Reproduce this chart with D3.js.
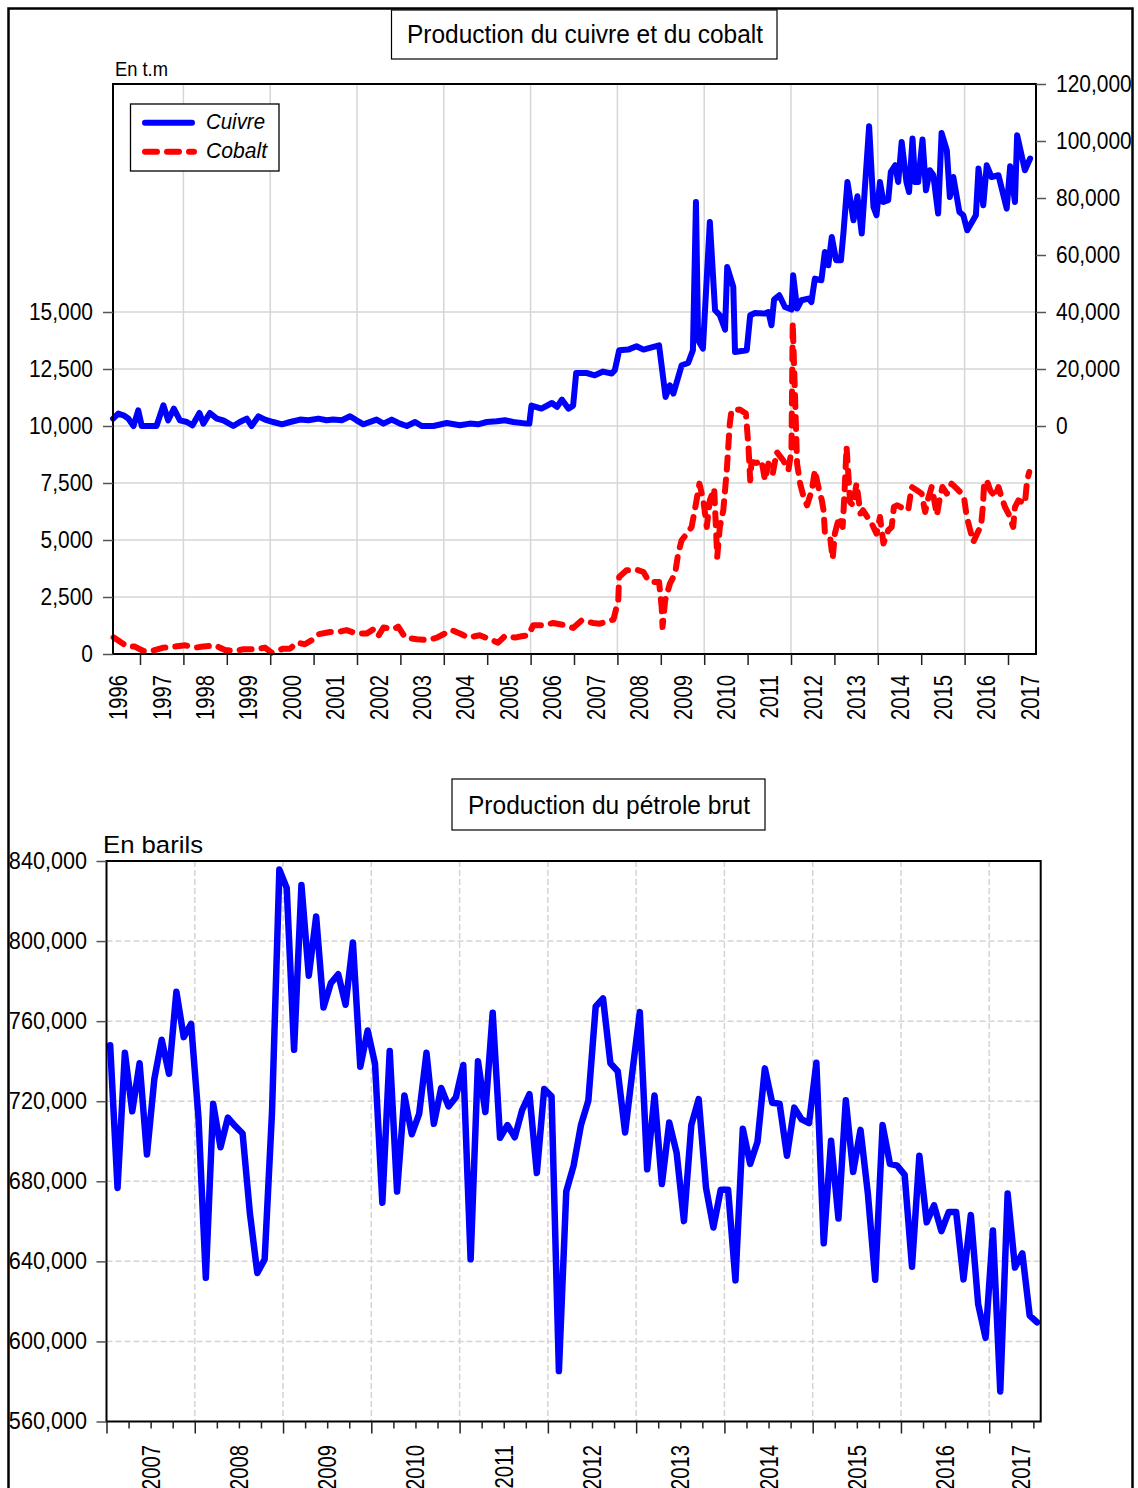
<!DOCTYPE html>
<html><head><meta charset="utf-8">
<script src="https://cdn.jsdelivr.net/npm/d3@7"></script>
<style>
body{margin:0;background:#fff}
svg{display:block}
text{font-family:"Liberation Sans",Arial,Helvetica,sans-serif;fill:#000}
</style>
</head><body>
<script>
// ---------------- DATA ----------------
// Top chart: copper (right axis, t.m) and cobalt (left axis, t.m); dates as fractional years
const cuivreDates = [1996.38,1996.50,1996.62,1996.73,1996.85,1996.96,1997.04,1997.15,1997.38,1997.54,
1997.65,1997.78,1997.92,1998.08,1998.21,1998.37,1998.46,1998.61,1998.77,1998.92,
1999.15,1999.30,1999.46,1999.57,1999.73,1999.88,2000.07,2000.27,2000.46,2000.69,
2000.88,2001.11,2001.30,2001.45,2001.65,2001.84,2001.99,2002.15,2002.45,2002.61,
2002.80,2002.99,2003.15,2003.34,2003.49,2003.76,2004.07,2004.37,2004.60,2004.79,
2004.99,2005.22,2005.41,2005.60,2005.91,2005.97,2006.02,2006.25,2006.49,2006.61,
2006.72,2006.87,2006.98,2007.05,2007.29,2007.48,2007.67,2007.87,2007.94,2008.04,
2008.25,2008.44,2008.60,2008.96,2009.11,2009.21,2009.29,2009.48,2009.63,2009.74,
2009.81,2009.86,2009.97,2010.13,2010.25,2010.36,2010.48,2010.53,2010.67,2010.71,
2010.98,2011.06,2011.17,2011.40,2011.48,2011.55,2011.61,2011.73,2011.86,2012.01,
2012.05,2012.14,2012.24,2012.40,2012.47,2012.55,2012.70,2012.78,2012.86,2012.94,
2013.04,2013.15,2013.21,2013.30,2013.44,2013.53,2013.63,2013.80,2013.90,2013.97,
2014.05,2014.13,2014.24,2014.30,2014.40,2014.47,2014.55,2014.66,2014.72,2014.80,
2014.86,2014.93,2015.03,2015.11,2015.20,2015.28,2015.39,2015.47,2015.59,2015.66,
2015.74,2015.88,2015.97,2016.06,2016.26,2016.32,2016.43,2016.51,2016.62,2016.78,
2016.97,2017.05,2017.16,2017.21,2017.39,2017.51];
const cuivreValues = [2600,4350,3750,2600,0,5500,0,0,0,7260,
2000,6100,2000,1400,250,4560,840,4560,2600,2000,
0,1400,2600,0,3400,2250,1400,600,1400,2250,
2000,2600,2000,2250,2000,3400,2000,600,2250,840,
2250,840,0,1400,0,0,1050,250,840,600,
1400,1650,2000,1400,840,840,7160,6100,8070,6670,
9260,6100,7160,18600,18600,17790,19090,18390,19550,26560,
26810,27970,26810,28320,10180,14280,11370,21300,22110,26560,
78600,30070,27160,71580,40600,38840,33830,55790,48780,25970,
26560,38840,39650,39440,40000,35340,44350,45860,41760,40850,
52880,41200,44110,44700,43510,51720,51130,61060,56390,66320,
58140,58140,68070,85620,72180,80600,67510,105160,76850,73930,
85620,78600,79200,89130,91480,85620,99660,85620,82110,100850,
85620,85620,100500,82710,89730,87970,74530,102810,96740,80360,
87370,75090,73930,68670,73930,90320,77440,91480,87370,87970,
76290,91130,78600,102010,89730,93830];

const cobaltDates = [1996.39,1996.69,1996.88,1997.08,1997.27,1997.54,1997.81,1998.04,1998.27,1998.46,
1998.73,1998.96,1999.15,1999.38,1999.65,1999.88,2000.03,2000.30,2000.46,2000.61,
2000.80,2000.99,2001.11,2001.38,2001.57,2001.76,2001.99,2002.22,2002.38,2002.49,
2002.61,2002.84,2002.95,2003.11,2003.38,2003.64,2003.84,2004.07,2004.18,2004.41,
2004.56,2004.83,2005.06,2005.25,2005.41,2005.64,2005.79,2005.95,2006.06,2006.29,
2006.52,2006.79,2006.98,2007.18,2007.44,2007.60,2007.91,2008.02,2008.04,2008.21,
2008.44,2008.60,2008.71,2008.83,2008.96,2009.02,2009.04,2009.10,2009.21,2009.33,
2009.40,2009.48,2009.60,2009.71,2009.81,2009.89,2009.98,2010.06,2010.13,2010.23,
2010.30,2010.36,2010.44,2010.52,2010.59,2010.63,2010.82,2010.96,2011.02,2011.06,
2011.09,2011.21,2011.32,2011.40,2011.48,2011.58,2011.67,2011.82,2011.94,2012.01,
2012.04,2012.14,2012.21,2012.28,2012.37,2012.48,2012.55,2012.63,2012.71,2012.75,
2012.78,2012.90,2012.96,2013.01,2013.11,2013.19,2013.23,2013.28,2013.33,2013.36,
2013.43,2013.51,2013.55,2013.60,2013.66,2013.76,2013.86,2013.97,2014.05,2014.13,
2014.24,2014.32,2014.37,2014.45,2014.59,2014.70,2014.78,2014.90,2015.01,2015.09,
2015.16,2015.24,2015.28,2015.36,2015.42,2015.49,2015.59,2015.70,2015.82,2015.93,
2015.99,2016.05,2016.11,2016.20,2016.29,2016.38,2016.42,2016.45,2016.51,2016.59,
2016.70,2016.78,2016.85,2016.93,2017.01,2017.12,2017.16,2017.24,2017.39,2017.44,
2017.49];
const cobaltValues = [730,350,325,130,130,280,325,380,280,325,
380,175,130,205,205,280,60,235,235,500,
425,645,865,965,965,1050,895,895,1085,790,
1160,1085,1200,720,645,615,720,940,1050,865,
720,820,645,500,790,720,776,820,1260,1260,
1360,1260,1140,1480,1360,1330,1510,2355,3377,3670,
3700,3597,3232,3158,3158,2060,1184,2355,3088,3526,
4403,4987,5281,5570,6596,7474,6741,5570,6741,7254,
4254,5570,6303,8057,10105,10690,10720,10544,9079,7618,
8421,8377,8495,7618,8348,7912,8860,8495,8057,8933,
14550,8350,7474,6961,6522,7180,8057,7325,6741,6303,
5351,5132,4184,5281,6009,5570,6961,9079,7618,6667,
6522,7474,6886,6158,6303,6009,5717,5281,6009,4842,
5426,5570,6447,6522,6377,6303,7325,7180,7035,6228,
6816,7325,6961,6084,6741,7325,7035,7474,7254,7035,
6816,6009,5570,4912,5281,5645,6447,7474,7618,7180,
6886,7325,6886,6447,6158,5570,6447,6741,6596,7618,
7982];

const leftTicks = [0,2500,5000,7500,10000,12500,15000];
const rightTicks = [0,20000,40000,60000,80000,100000,120000];
const topYears = d3.range(1996, 2018);
const topGridYears = [1998,2000,2002,2004,2006,2008,2010,2012,2014,2016];

// Bottom chart: crude oil, monthly from 2007M01 to 2017M07 (barrels)
const petroleStart = 2007;
const petroleValues = [747900,676700,744200,715000,739000,693400,731000,750700,733700,774700,752000,758600,
712000,631800,718700,697000,711800,707600,703900,663800,634200,641000,714600,835700,
826500,745700,828000,782700,812300,766800,779000,783400,768200,799300,737200,755300,
738700,669300,745100,674900,722900,703500,713700,744200,708700,726600,717400,722000,
738100,641000,740000,714600,764200,701700,708100,702000,715500,723500,684100,726100,
722400,585200,674900,687800,708100,720200,767300,771400,739000,735000,704400,735000,
764500,686000,722900,678600,709400,694300,660100,708100,721100,676700,656900,675800,
675800,630500,706300,688700,699800,736400,719200,718700,692800,716800,710900,709100,
739200,649000,700200,661400,720500,684700,705700,673900,630800,708100,688700,687800,
683200,637300,692800,659500,668000,655100,664700,664700,631000,663200,618500,601800,
655400,575000,673900,636900,644000,612900,609600];
const petroleTicks = [560000,600000,640000,680000,720000,760000,800000,840000];
const bottomYears = d3.range(2007, 2018);

const titleTop = "Production du cuivre et du cobalt";
const titleBottom = "Production du pétrole brut";
const unitTop = "En t.m";
const unitBottom = "En barils";
const seriesNames = ["Cuivre", "Cobalt"];

// ---------------- DRAW ----------------
const W = 1138, H = 1488;
const svg = d3.select("body").append("svg").attr("width", W).attr("height", H);
svg.append("rect").attr("width", W).attr("height", H).attr("fill", "#fff");

function squeeze(sel, f) {
  sel.each(function () {
    const L = this.getComputedTextLength();
    if (L > 0) { this.setAttribute("textLength", L * f); this.setAttribute("lengthAdjust", "spacingAndGlyphs"); }
  });
}
function fit(sel, w) {
  sel.attr("textLength", w).attr("lengthAdjust", "spacingAndGlyphs");
}
const FONT = '"Liberation Sans", Arial, Helvetica, sans-serif';

// outer border
svg.append("rect").attr("x", 8.5).attr("y", 8.5).attr("width", 1124).attr("height", 1600)
  .attr("fill", "none").attr("stroke", "#000").attr("stroke-width", 2.5);

// ===== TOP CHART =====
const xTop = d3.scaleLinear().domain([1996.378, 2017.645]).range([113, 1036]);
const yLeft = d3.scaleLinear().domain([0, 25000]).range([654, 84]);
const yRight = d3.scaleLinear().domain([-80000, 120000]).range([654, 84]);

// title box
svg.append("rect").attr("x", 391.5).attr("y", 10).attr("width", 385.5).attr("height", 49)
  .attr("fill", "#fff").attr("stroke", "#000").attr("stroke-width", 1.2);
svg.append("text").attr("x", 585).attr("y", 43).attr("text-anchor", "middle")
  .attr("font-size", 25.5).text(titleTop).call(fit, 356);

svg.append("text").attr("x", 115).attr("y", 75.5).attr("font-size", 21).text(unitTop).call(fit, 53);

const gTop = svg.append("g");
// grid
gTop.selectAll("line.hg").data(leftTicks).join("line")
  .attr("x1", 113).attr("x2", 1036).attr("y1", d => yLeft(d)).attr("y2", d => yLeft(d))
  .attr("stroke", "#d6d6d6").attr("stroke-width", 1.5);
gTop.selectAll("line.vg").data(topGridYears).join("line")
  .attr("x1", d => xTop(d)).attr("x2", d => xTop(d)).attr("y1", 84).attr("y2", 654)
  .attr("stroke", "#d6d6d6").attr("stroke-width", 1.5);

// lines
const cuivreData = d3.zip(cuivreDates, cuivreValues);
const cobaltData = d3.zip(cobaltDates, cobaltValues);
gTop.append("path").datum(cuivreData)
  .attr("d", d3.line().x(d => xTop(d[0])).y(d => yRight(d[1])))
  .attr("fill", "none").attr("stroke", "#0000ff").attr("stroke-width", 6)
  .attr("stroke-linejoin", "round").attr("stroke-linecap", "round");
gTop.append("path").datum(cobaltData)
  .attr("d", d3.line().x(d => xTop(d[0])).y(d => yLeft(d[1])))
  .attr("fill", "none").attr("stroke", "#ff0000").attr("stroke-width", 6)
  .attr("stroke-dasharray", "12,10")
  .attr("stroke-linejoin", "round").attr("stroke-linecap", "round");

// frame
gTop.append("rect").attr("x", 113).attr("y", 84).attr("width", 923).attr("height", 570)
  .attr("fill", "none").attr("stroke", "#000").attr("stroke-width", 2);

// left axis
const axL = svg.append("g").attr("transform", "translate(113,0)")
  .call(d3.axisLeft(yLeft).tickValues(leftTicks).tickSize(10).tickPadding(10).tickFormat(d3.format(",")));
axL.select(".domain").remove();
axL.attr("font-size", 23).attr("font-family", FONT);
axL.selectAll("line").attr("stroke", "#555").attr("stroke-width", 1.5);
axL.selectAll("text").attr("fill", "#000").call(squeeze, 0.91);

// right axis
const axR = svg.append("g").attr("transform", "translate(1036,0)")
  .call(d3.axisRight(yRight).tickValues(rightTicks).tickSize(10).tickPadding(10).tickFormat(d3.format(",")));
axR.select(".domain").remove();
axR.attr("font-size", 23).attr("font-family", FONT);
axR.selectAll("line").attr("stroke", "#555").attr("stroke-width", 1.5);
axR.selectAll("text").attr("fill", "#000").call(squeeze, 0.91);

// bottom axis ticks
const axB = svg.append("g").attr("transform", "translate(0,654)")
  .call(d3.axisBottom(xTop).tickValues(d3.range(1997, 2018)).tickSize(11).tickFormat(""));
axB.select(".domain").remove();
axB.selectAll("line").attr("stroke", "#222").attr("stroke-width", 1.5);
svg.append("g").selectAll("text").data(topYears).join("text")
  .attr("transform", d => `translate(${xTop(d + 0.5)},675) rotate(-90)`)
  .attr("text-anchor", "end").attr("dy", "0.36em").attr("font-size", 25)
  .text(d => d).call(squeeze, 0.81);

// legend
const lg = svg.append("g");
lg.append("rect").attr("x", 130.5).attr("y", 104).attr("width", 148.5).attr("height", 67)
  .attr("fill", "#fff").attr("stroke", "#000").attr("stroke-width", 1.3);
lg.append("line").attr("x1", 145).attr("x2", 192).attr("y1", 122.7).attr("y2", 122.7)
  .attr("stroke", "#0000ff").attr("stroke-width", 6).attr("stroke-linecap", "round");
lg.append("line").attr("x1", 145).attr("x2", 194).attr("y1", 151.7).attr("y2", 151.7)
  .attr("stroke", "#ff0000").attr("stroke-width", 6).attr("stroke-linecap", "round")
  .attr("stroke-dasharray", "12,10");
lg.append("text").attr("x", 206).attr("y", 129).attr("font-size", 22).attr("font-style", "italic")
  .text(seriesNames[0]).call(fit, 59);
lg.append("text").attr("x", 206).attr("y", 158.3).attr("font-size", 22).attr("font-style", "italic")
  .text(seriesNames[1]).call(fit, 61);

// ===== BOTTOM CHART =====
const xBot = d3.scaleLinear().domain([2007, 2017.583]).range([106.5, 1040.7]);
const yBot = d3.scaleLinear().domain([560000, 840000]).range([1421.5, 861]);

svg.append("rect").attr("x", 452).attr("y", 779).attr("width", 313).attr("height", 51)
  .attr("fill", "#fff").attr("stroke", "#000").attr("stroke-width", 1.2);
svg.append("text").attr("x", 609).attr("y", 813.5).attr("text-anchor", "middle")
  .attr("font-size", 25.5).text(titleBottom).call(fit, 282);
svg.append("text").attr("x", 103).attr("y", 853).attr("font-size", 24.5).text(unitBottom).call(fit, 100);

const gBot = svg.append("g");
gBot.selectAll("line.hg").data(petroleTicks.slice(1, -1)).join("line")
  .attr("x1", 106.5).attr("x2", 1040.7).attr("y1", d => yBot(d)).attr("y2", d => yBot(d))
  .attr("stroke", "#d4d4d4").attr("stroke-width", 1.5).attr("stroke-dasharray", "6,3");
gBot.selectAll("line.vg").data(bottomYears.slice(1)).join("line")
  .attr("x1", d => xBot(d)).attr("x2", d => xBot(d)).attr("y1", 861).attr("y2", 1421.5)
  .attr("stroke", "#d4d4d4").attr("stroke-width", 1.5).attr("stroke-dasharray", "6,3");

const petroleData = petroleValues.map((v, i) => [petroleStart + (i + 0.5) / 12, v]);
gBot.append("path").datum(petroleData)
  .attr("d", d3.line().x(d => xBot(d[0])).y(d => yBot(d[1])))
  .attr("fill", "none").attr("stroke", "#0000ff").attr("stroke-width", 6.5)
  .attr("stroke-linejoin", "round").attr("stroke-linecap", "round");

gBot.append("rect").attr("x", 106.5).attr("y", 861).attr("width", 934.2).attr("height", 560.5)
  .attr("fill", "none").attr("stroke", "#000").attr("stroke-width", 2);

const axBL = svg.append("g").attr("transform", "translate(106.5,0)")
  .call(d3.axisLeft(yBot).tickValues(petroleTicks).tickSize(10).tickPadding(9.5).tickFormat(d3.format(",")));
axBL.select(".domain").remove();
axBL.attr("font-size", 23).attr("font-family", FONT);
axBL.selectAll("line").attr("stroke", "#555").attr("stroke-width", 1.5);
axBL.selectAll("text").attr("fill", "#000").call(squeeze, 0.94);

const quarters = [];
for (let y = 2007; y < 2018; y++) for (let q = 1; q < 4; q++) { const t = y + q / 4; if (t <= 2017.583) quarters.push(t); }
const axBm = svg.append("g").attr("transform", "translate(0,1421.5)")
  .call(d3.axisBottom(xBot).tickValues(quarters).tickSize(7).tickFormat(""));
axBm.select(".domain").remove();
axBm.selectAll("line").attr("stroke", "#222").attr("stroke-width", 1.5);
const axBM = svg.append("g").attr("transform", "translate(0,1421.5)")
  .call(d3.axisBottom(xBot).tickValues(bottomYears).tickSize(12).tickFormat(""));
axBM.select(".domain").remove();
axBM.selectAll("line").attr("stroke", "#222").attr("stroke-width", 1.5);
svg.append("g").selectAll("text").data(bottomYears).join("text")
  .attr("transform", d => `translate(${Math.min(xBot(d + 0.5), 1020.7)},1445) rotate(-90)`)
  .attr("text-anchor", "end").attr("dy", "0.36em").attr("font-size", 25)
  .text(d => d).call(squeeze, 0.81);
</script>
</body></html>
